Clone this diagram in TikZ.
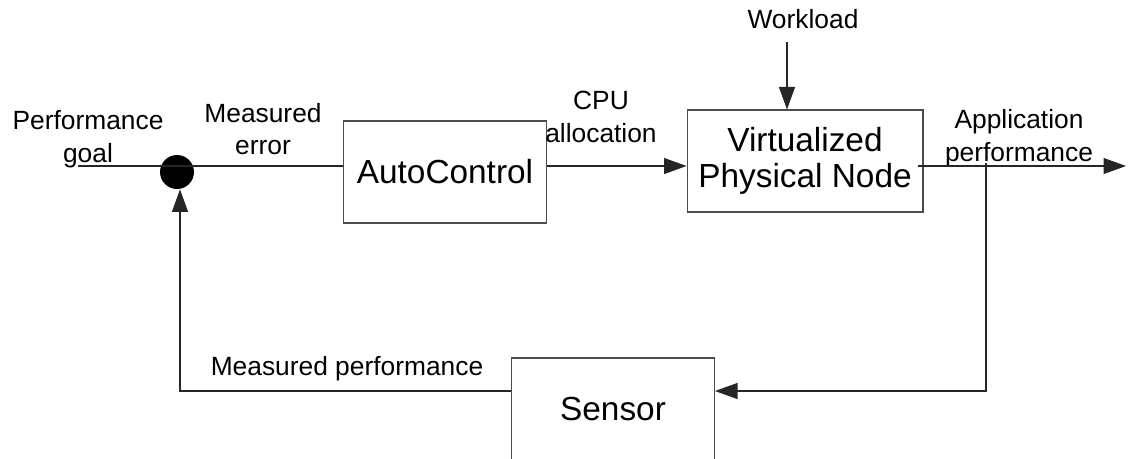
\documentclass[tikz,border=0pt]{standalone}
\usepackage{fontspec}
\setmainfont{Liberation Sans}
\usetikzlibrary{arrows.meta}
\begin{document}
\begin{tikzpicture}[x=0.02cm, y=-0.02cm,
  line/.style={line width=0.6pt, black!85},
  tri/.style={-{Triangle[length=0.45cm, width=0.32cm]}},
  block/.style={draw=black!70, line width=0.6pt, minimum height=2.04cm, align=center, inner sep=0pt, font=\fontsize{19}{20.5}\selectfont},
  lbl/.style={align=center, inner sep=0pt, font=\fontsize{15}{18.5}\selectfont},
  sumdot/.style={circle, fill=black, minimum size=0.68cm, inner sep=0pt}]
\useasboundingbox (0,0) rectangle (1130,458);
\node at(445,172)[block, minimum width=4.06cm] (ctrl) {AutoControl};
\node at(805,161)[block, minimum width=4.72cm] (virt) {Virtualized\\Physical Node};
\node at(613,409)[block, minimum width=4.06cm] (sensor) {Sensor};
\node at(177,172)[sumdot] (dot) {};
\coordinate (goal) at (78,166);
\coordinate (wl) at (787,42);
\coordinate (out) at (1126,166);
\coordinate (tap) at (986,163);
\coordinate (fb) at (986,391);
\node at(88,139)[lbl] (goaltxt) {Performance\\goal};
\node at(263,129)[lbl] (errtxt) {Measured\\error};
\node at(601,117)[lbl] (cputxt) {CPU\\allocation};
\node at(803,19)[lbl] (wltxt) {Workload};
\node at(1019,138)[lbl] (apptxt) {Application\\performance};
\node at(347,369)[lbl] (meastxt) {Measured performance};
\draw[line] (goal) to (ctrl.west |- goal);
\draw[line, tri] (ctrl.east |- goal) to (virt.west |- goal);
\draw[line, tri] (wl) to (virt.north -| wl);
\draw[line, tri] ([xshift=-0.12cm]virt.east |- goal) to (out);
\draw[line, tri] (tap) -- (fb) -- (sensor.east |- fb);
\draw[line, tri] (sensor.west |- fb) -| ([xshift=0.06cm]dot.south);
\end{tikzpicture}
\end{document}
